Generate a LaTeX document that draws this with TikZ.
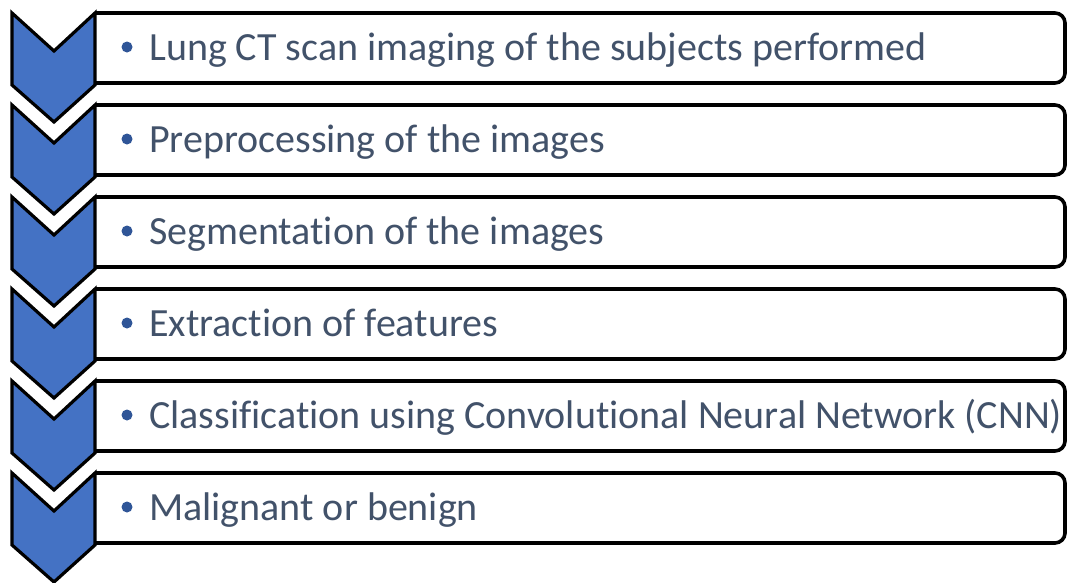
\documentclass[tikz,border=0pt]{standalone}
\usepackage{fontspec}
\setmainfont{Carlito}[Ligatures=NoCommon]
\definecolor{chevblue}{RGB}{68,114,196}
\definecolor{txtcol}{RGB}{66,82,106}
\definecolor{bulcol}{RGB}{47,85,151}
\tikzset{
  chevron/.style={draw=black,fill=chevblue,line width=3.2pt,line join=miter},
  listbox/.style={draw=black,fill=white,line width=3.6pt,rounded corners=10pt},
  itemtext/.style={anchor=base west,inner sep=0pt,text=txtcol,font=\fontsize{40}{48}\selectfont},
}
\begin{document}
\begin{tikzpicture}[x=1pt,y=-1pt]
\useasboundingbox (0,0) rectangle (1070,582);
\foreach \t/\txt [count=\i] in {
  13/{Lung CT scan imaging of the subjects performed},
  105/{Preprocessing of the images},
  197/{Segmentation of the images},
  289/{Extraction of features},
  381/{Classification using Convolutional Neural Network (CNN)},
  473/{Malignant or benign}}{
  \fill[white] (95,\t) rectangle (1060,\t+70);
  \draw[listbox] (95,\t) -- (1065,\t) -- (1065,\t+70) -- (95,\t+70);
  \draw[chevron] (12,\t) -- (54,\t+38) -- (95,\t) -- (95,\t+72) -- (54,\t+109) -- (12,\t+72) -- cycle;
  \fill[bulcol] (127,\t+34) circle (5.5);
  \node[itemtext] (item\i) at (149,\t+47) {\txt};
}
\end{tikzpicture}
\end{document}
